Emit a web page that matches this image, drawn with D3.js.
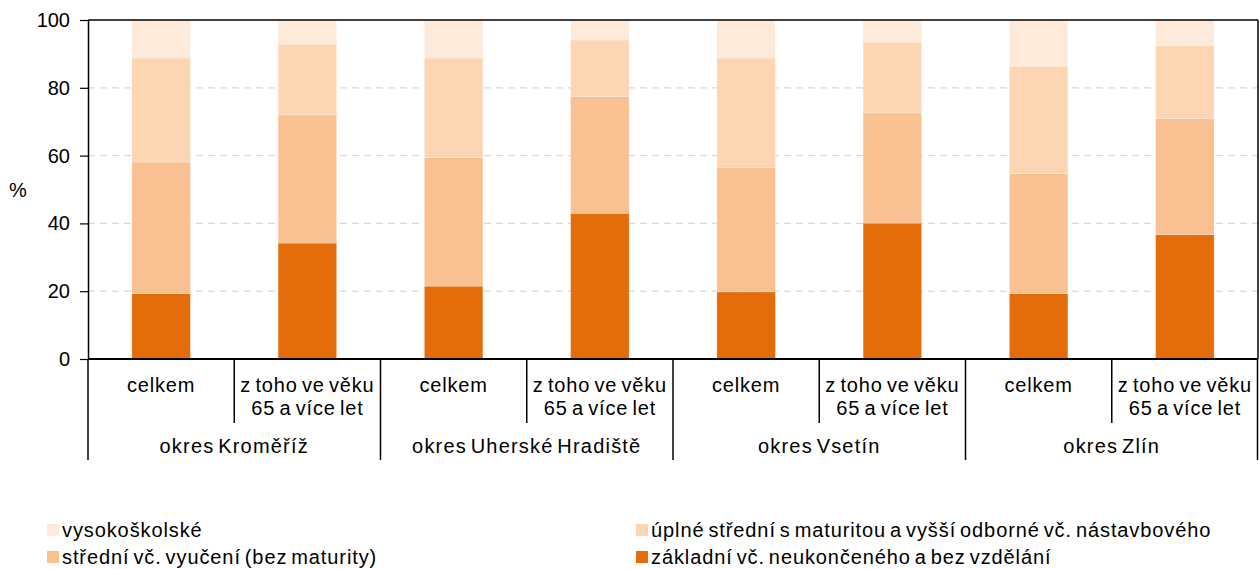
<!DOCTYPE html>
<html lang="cs">
<head>
<meta charset="utf-8">
<script src="https://d3js.org/d3.v7.min.js"></script>
<style>
body { margin: 0; background: #fff; }
text { font-family: "Liberation Sans", Arial, sans-serif; fill: #000; }
</style>
</head>
<body>
<script>
// okresy a kategorie
var groups = ["okres Kroměříž", "okres Uherské Hradiště", "okres Vsetín", "okres Zlín"];
var subs = ["celkem", "z toho ve věku 65 a více let"];
var subLabels = [["celkem"], ["z toho ve věku", "65 a více let"]];

// podíly vzdělání v % (pořadí: Kroměříž celkem, 65+, UH celkem, 65+, ...)
var zakladni = [19.3, 34.2, 21.5, 43.0, 19.8, 40.1, 19.3, 36.7];
var vyuceni  = [38.8, 37.8, 37.9, 34.4, 36.6, 32.5, 35.4, 34.2];
var uplne    = [30.7, 20.9, 29.4, 16.7, 32.4, 20.9, 31.7, 21.5];
var vysoko   = [11.2,  7.1, 11.2,  5.9, 11.2,  6.5, 13.6,  7.6];

var yTicks = [0, 20, 40, 60, 80, 100];

var keys = ["zakladni", "vyuceni", "uplne", "vysoko"];
var names = {
	zakladni: "základní vč. neukončeného a bez vzdělání",
	vyuceni: "střední vč. vyučení (bez maturity)",
	uplne: "úplné střední s maturitou a vyšší odborné vč. nástavbového",
	vysoko: "vysokoškolské"
};
var colors = {zakladni: "#E46C0A", vyuceni: "#F9C091", uplne: "#FCD5B5", vysoko: "#FDEADA"};

var data = [];
groups.forEach(function(g, gi){
	subs.forEach(function(s, si){
		var i = gi * 2 + si;
		data.push({group: g, sub: s, zakladni: zakladni[i], vyuceni: vyuceni[i], uplne: uplne[i], vysoko: vysoko[i]});
	});
});

var width = 1259, height = 569;
var margin = {top: 20, right: 1, bottom: 210, left: 88};

var svg = d3.select("body").append("svg")
	.attr("width", width)
	.attr("height", height);

var xg = d3.scaleBand().domain(groups).range([margin.left, width - margin.right]);
var xs = d3.scaleBand().domain(subs).range([0, xg.bandwidth()]);
var y = d3.scaleLinear().domain([0, 100]).range([height - margin.bottom, margin.top]);

var barW = xs.bandwidth() * 0.4;
function barX(d){ return xg(d.group) + xs(d.sub) + (xs.bandwidth() - barW) / 2; }

// mřížka
svg.append("g")
	.selectAll("line")
	.data(yTicks.filter(function(t){ return t > 0 && t < 100; }))
	.enter().append("line")
	.attr("x1", margin.left).attr("x2", width - margin.right)
	.attr("y1", function(d){ return y(d); }).attr("y2", function(d){ return y(d); })
	.attr("stroke", "#d9d9d9")
	.attr("stroke-width", 1.2)
	.attr("stroke-dasharray", "7,5");

// sloupce
var stacked = d3.stack().keys(keys)(data);
svg.append("g")
	.selectAll("g")
	.data(stacked)
	.enter().append("g")
	.attr("fill", function(d){ return colors[d.key]; })
	.selectAll("rect")
	.data(function(d){ return d; })
	.enter().append("rect")
	.attr("x", function(d){ return barX(d.data); })
	.attr("width", barW)
	.attr("y", function(d){ return y(d[1]); })
	.attr("height", function(d){ return y(d[0]) - y(d[1]); })
	.attr("stroke", "#fff")
	.attr("stroke-opacity", 0.4)
	.attr("stroke-width", 0.6);

// osa y
var yAxis = svg.append("g")
	.attr("transform", "translate(" + margin.left + ",0)")
	.call(d3.axisLeft(y).tickValues(yTicks).tickSize(8).tickPadding(10).tickSizeOuter(0));
yAxis.select(".domain").attr("stroke", "#000").attr("stroke-width", 1.5);
yAxis.selectAll(".tick line").attr("stroke", "#000").attr("stroke-width", 1.2);
yAxis.selectAll(".tick text").style("font-size", "20px").attr("fill", "#000");

svg.append("text")
	.attr("x", 18).attr("y", y(50))
	.attr("text-anchor", "middle")
	.attr("dy", "0.35em")
	.style("font-size", "20px")
	.text("%");

// rámeček nahoře a vpravo
svg.append("line")
	.attr("x1", margin.left).attr("x2", width - margin.right)
	.attr("y1", y(100)).attr("y2", y(100))
	.attr("stroke", "#000").attr("stroke-width", 1.5);
svg.append("line")
	.attr("x1", width - margin.right).attr("x2", width - margin.right)
	.attr("y1", y(100)).attr("y2", y(0))
	.attr("stroke", "#000").attr("stroke-width", 1.5);

// osa x
var y0 = y(0);
svg.append("line")
	.attr("x1", margin.left).attr("x2", width - margin.right)
	.attr("y1", y0).attr("y2", y0)
	.attr("stroke", "#000").attr("stroke-width", 2);

// oddělovače: krátké mezi podkategoriemi, dlouhé mezi okresy
groups.forEach(function(g){
	svg.append("line")
		.attr("x1", xg(g) + xs(subs[1])).attr("x2", xg(g) + xs(subs[1]))
		.attr("y1", y0).attr("y2", y0 + 64)
		.attr("stroke", "#000").attr("stroke-width", 1.5);
});
groups.concat(["end"]).forEach(function(g){
	var xx = g === "end" ? width - margin.right - 0.5 : xg(g);
	svg.append("line")
		.attr("x1", xx).attr("x2", xx)
		.attr("y1", y0).attr("y2", y0 + 101)
		.attr("stroke", "#000").attr("stroke-width", 1.5);
});

// popisky podkategorií
data.forEach(function(d){
	var lines = subLabels[subs.indexOf(d.sub)];
	var t = svg.append("text")
		.attr("x", xg(d.group) + xs(d.sub) + xs.bandwidth() / 2)
		.attr("y", y0 + 33)
		.attr("text-anchor", "middle")
		.style("font-size", "20px")
		.style("word-spacing", "-2px")
		.style("letter-spacing", "0.8px");
	lines.forEach(function(l, li){
		t.append("tspan")
			.attr("x", xg(d.group) + xs(d.sub) + xs.bandwidth() / 2)
			.attr("dy", li === 0 ? 0 : 23)
			.text(l);
	});
});

// popisky okresů
svg.append("g")
	.selectAll("text")
	.data(groups)
	.enter().append("text")
	.attr("x", function(d){ return xg(d) + xg.bandwidth() / 2; })
	.attr("y", y0 + 94)
	.attr("text-anchor", "middle")
	.style("font-size", "20px")
	.style("word-spacing", "-3px")
	.style("letter-spacing", "1.2px")
	.text(function(d){ return d; });

// legenda
var legendItems = [
	{key: "vysoko", x: 47, y: 530},
	{key: "uplne", x: 636, y: 530},
	{key: "vyuceni", x: 47, y: 557},
	{key: "zakladni", x: 636, y: 557}
];
var lg = svg.append("g").selectAll("g")
	.data(legendItems)
	.enter().append("g")
	.attr("transform", function(d){ return "translate(" + d.x + "," + d.y + ")"; });
lg.append("rect")
	.attr("x", 0).attr("y", -6)
	.attr("width", 12).attr("height", 12)
	.attr("fill", function(d){ return colors[d.key]; });
lg.append("text")
	.attr("x", 15)
	.attr("dy", "0.35em")
	.style("font-size", "20px")
	.style("word-spacing", "-2.5px")
	.style("letter-spacing", "0.9px")
	.text(function(d){ return names[d.key]; });
</script>
</body>
</html>
